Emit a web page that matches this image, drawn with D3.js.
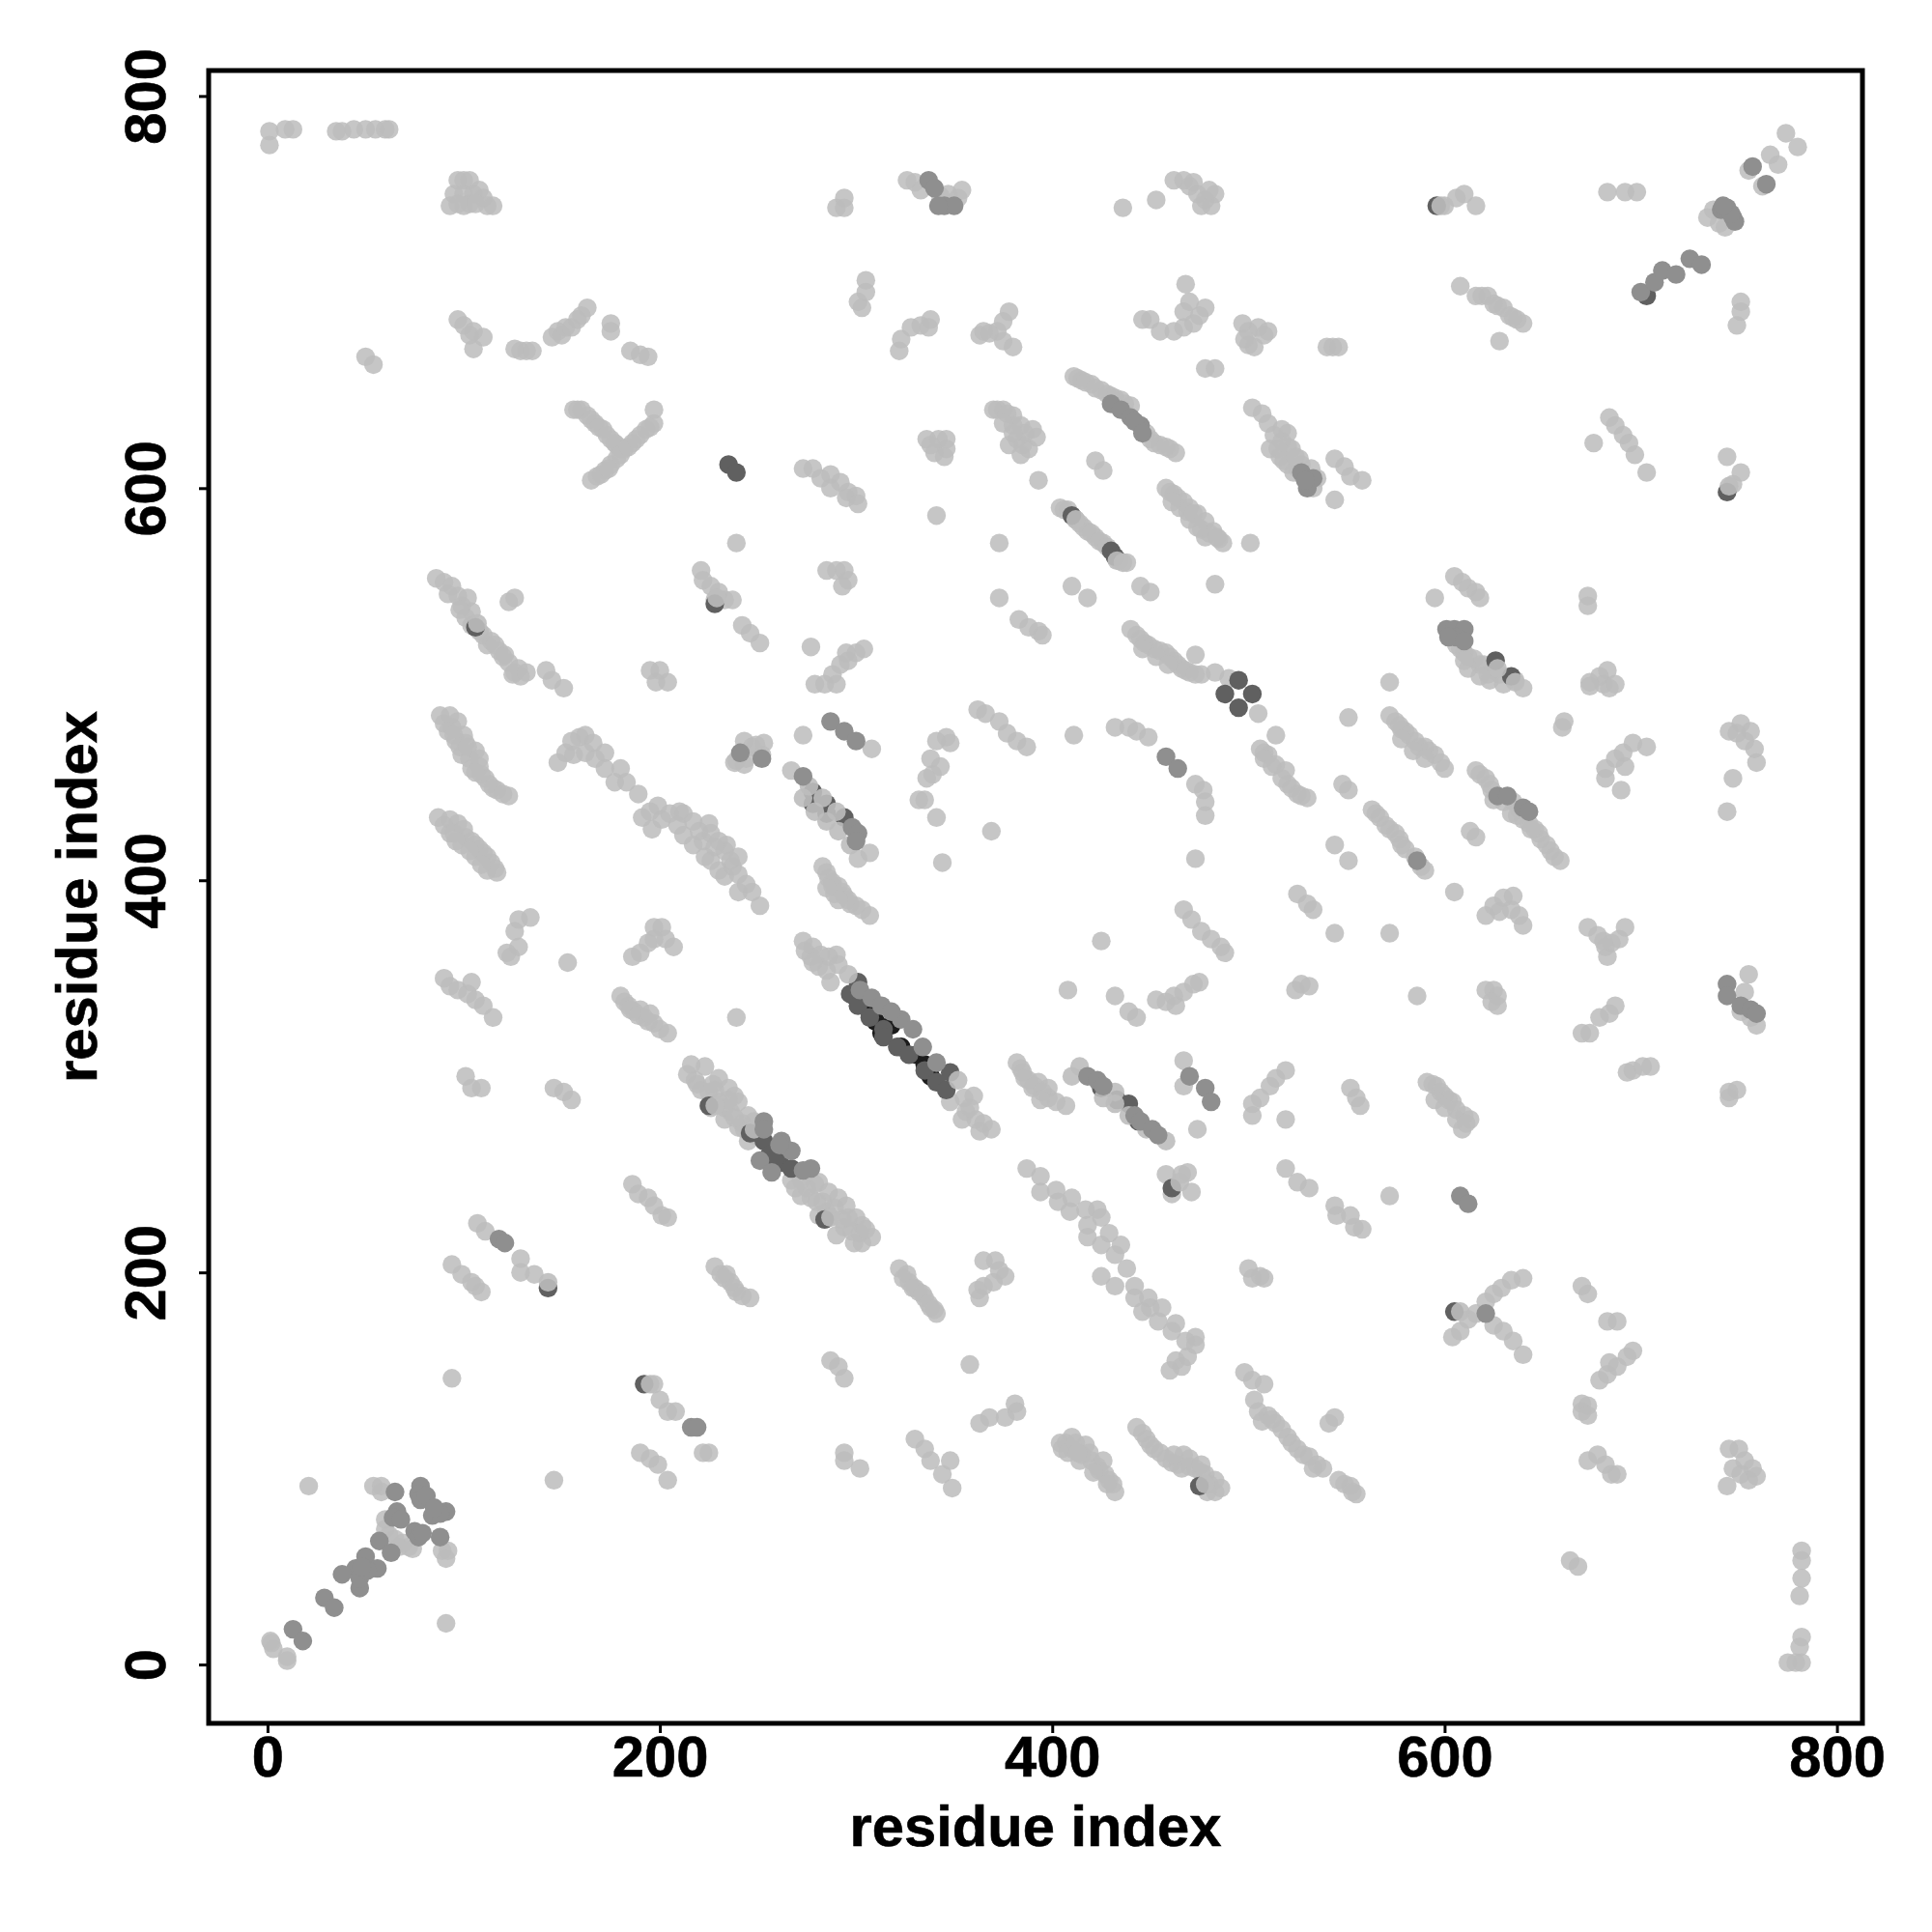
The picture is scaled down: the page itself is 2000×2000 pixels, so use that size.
<!DOCTYPE html>
<html><head><meta charset="utf-8">
<script src="https://cdn.jsdelivr.net/npm/d3@7"></script>
<style>html,body{margin:0;padding:0;background:#fff}svg{display:block}</style>
</head><body><svg id="c" width="2000" height="2000"></svg>
<script>
const tickValues = [0,200,400,600,800];
const axisTitle = "residue index";
const lightPoints = [
[1,782],[1,775],[9,783],[13,783],[35,782],[38,782],[44,783],[50,783],[55,783],[60,783],[62,783],
[93,744],[95,750],[97,757],[100,757],[103,757],[100,750],[103,745],[105,750],[108,752],[110,748],[112,744],[115,744],[100,744],[106,745],[97,745],
[50,667],[54,663],[97,686],[100,683],[105,680],[110,677],[105,671],[103,678],[126,671],[129,670],[132,670],[135,670],
[145,677],[148,680],[150,678],[152,682],[155,682],[158,686],[160,688],[163,692],[175,684],[175,680],[185,670],[190,668],[194,667],
[156,640],[160,640],[163,637],[167,633],[171,630],[175,625],[178,622],[180,620],[165,604],[168,606],[172,609],[175,612],[178,615],[182,620],[186,623],[190,627],[193,630],[197,633],[197,640],
[239,572],[221,558],[222,553],[226,550],[230,547],[233,543],[237,543],[228,543],[242,530],[246,526],[251,521],[277,519],
[279,500],[284,500],[290,500],[288,505],[292,510],[296,512],[295,516],[300,516],[304,518],[285,558],[290,558],[294,558],[296,553],[293,550],
[273,610],[278,610],[282,605],[287,607],[287,600],[292,603],[296,598],[300,596],[295,595],[301,592],
[290,743],[294,743],[294,748],[301,695],[305,700],[305,706],[303,692],[322,670],[323,676],[328,682],[333,683],[338,686],[337,682],
[326,757],[330,756],[333,752],[343,749],[347,750],[354,752],[352,748],[436,743],[453,747],
[462,757],[467,757],[470,754],[474,750],[478,747],[483,750],[476,744],[481,744],[480,752],[472,756],
[600,744],[606,748],[610,750],[616,744],[683,751],[692,751],[698,751],
[734,738],[737,742],[740,735],[743,733],[755,762],[762,754],[766,770],[770,765],[774,781],[780,774],
[608,703],[616,698],[622,698],[625,694],[630,692],[633,688],[637,686],[640,684],[628,675],[751,695],[751,690],[749,683],
[497,684],[500,680],[505,682],[510,680],[500,673],[503,672],[498,676],[508,678],[540,672],[543,672],[546,672],[478,661],[483,661],
[446,686],[450,686],[455,680],[462,680],[467,682],[472,684],[475,688],[478,692],[470,695],[468,704],[467,690],
[363,678],[368,679],[372,680],[375,685],[378,690],[375,675],[380,672],[365,680],
[411,657],[415,655],[420,653],[425,650],[430,647],[435,645],[440,642],[450,625],[455,622],[460,620],[463,618],
[458,600],[462,597],[467,593],[470,590],[474,587],[478,583],[482,578],[485,574],[487,572],[465,590],[470,584],[478,575],[464,595],
[501,572],[422,614],[426,609],[393,604],[341,586],[336,625],[342,625],[346,625],[346,620],[340,618],[345,616],[338,622],
[370,640],[375,640],[380,637],[384,632],[390,630],[382,625],[378,622],[385,622],[392,626],[388,620],
[373,572],[373,544],[383,533],[388,529],[393,527],[395,525],
[404,590],[408,589],[414,582],[418,578],[422,575],[426,572],[434,563],[438,562],[410,550],[418,544],[445,550],[450,547],[483,551],
[440,528],[443,525],[447,521],[452,518],[458,516],[462,512],[466,508],[470,506],[476,505],[473,515],[483,506],[490,503],[505,485],[514,474],
[502,641],[507,638],[510,633],[517,630],[520,628],[511,620],[516,616],[520,612],[525,610],[530,605],[533,600],[532,610],[527,612],[535,605],[526,615],[522,620],[517,624],[513,627],[520,621],
[544,615],[549,611],[552,606],[558,604],[544,594],[595,544],[605,555],[609,552],[612,549],[616,547],[618,544],
[606,520],[610,516],[615,513],[620,510],[622,505],[628,505],[640,498],[625,507],[673,545],[673,540],
[676,623],[684,636],[687,632],[691,627],[694,623],[697,617],[703,608],[744,616],[747,602],[751,608],
[674,501],[679,504],[683,507],[681,500],[684,498],[674,499],[687,500],[660,478],[661,481],
[745,476],[751,480],[756,476],[753,471],[758,467],[759,460],[749,475],[747,452],[744,435],
[682,452],[682,457],[687,462],[691,465],[696,470],[703,468],[690,446],[692,458],
[572,484],[575,481],[580,476],[585,471],[590,468],[595,464],[600,457],[578,477],[587,468],
[616,456],[621,452],[624,446],[635,440],[640,431],[646,426],[649,421],[654,415],[659,410],[613,425],[616,422],
[563,436],[567,432],[572,426],[577,421],[580,416],[590,405],[544,418],[551,410],[548,449],[551,446],
[506,467],[510,464],[514,459],[519,456],[520,449],[525,444],[530,442],[508,465],[551,483],[572,501],
[525,393],[530,388],[533,385],[544,373],[572,373],[586,341],[605,394],
[621,382],[625,387],[630,391],[635,392],[634,385],[638,382],[640,377],[628,384],
[673,376],[678,372],[682,366],[683,361],[689,370],[692,376],[685,368],[681,369],
[670,322],[674,322],[679,330],[684,332],[687,336],[693,302],[696,303],[701,305],[705,305],
[755,352],[753,343],[756,330],[759,326],[751,333],[745,292],[749,293],[745,289],
[621,344],[625,344],[627,341],[624,338],[627,336],[524,344],[527,347],[531,346],
[502,280],[502,286],[506,289],[511,295],[514,299],[519,303],[519,278],[552,294],[555,289],[557,285],
[591,297],[596,295],[600,290],[604,287],[606,283],[610,280],[609,273],[613,278],[572,239],[519,253],[525,246],[531,243],
[544,234],[545,229],[552,229],[554,223],[558,222],[500,202],[506,198],[502,197],[508,197],
[604,167],[608,170],[612,176],[616,179],[621,185],[625,189],[629,192],[634,196],[640,197],[625,173],[630,170],[635,165],[640,158],
[670,193],[673,189],[683,175],[688,175],[679,145],[683,148],[684,154],[688,152],[693,157],[696,160],
[670,133],[673,132],[670,129],[673,127],[673,104],[678,107],[682,102],[685,97],[688,97],
[745,110],[750,110],[747,100],[753,104],[757,100],[755,94],[744,91],[751,97],[759,96],[664,53],[668,50],
[782,58],[782,53],[782,44],[781,35],[782,14],[781,9],[775,1],[782,1],[779,1],
[498,149],[502,145],[508,143],[505,129],[510,127],[514,123],[520,116],[525,110],[535,102],[546,94],[552,91],[555,87],[541,123],[544,126],[531,106],
[404,113],[407,113],[410,110],[415,107],[420,104],[424,99],[429,94],[432,88],[410,116],[417,112],[405,110],[414,104],[423,101],[427,97],
[443,121],[448,115],[452,110],[458,105],[464,102],[467,107],[473,100],[478,97],[483,94],[483,88],[470,101],
[358,153],[363,123],[368,126],[376,126],[382,129],[381,133],[330,115],[335,110],[338,104],[348,104],[344,97],[349,90],
[294,108],[294,104],[302,100],[287,155],[291,152],[294,146],[197,143],[200,135],[204,129],[208,129],[222,108],[225,108],
[190,108],[195,105],[199,102],[204,94],[146,94],[94,146],[21,91],
[54,91],[58,91],[58,88],[60,74],[60,69],[62,66],[67,60],[72,60],[74,59],[69,62],[65,64],[89,58],[92,58],[91,54],[91,21],
[2,11],[3,8],[10,2],[1.5,12],[10,4],
[101,300],[104,294],[109,294],[90,350],[93,346],[97,344],[104,348],[106,339],[110,336],[115,330],[102,342],
[124,361],[128,366],[126,374],[128,380],[134,381],[122,363],[153,358],
[186,361],[190,363],[194,368],[197,376],[201,376],[203,370],[207,366],[197,370],
[180,341],[184,336],[187,333],[192,330],[197,327],[200,324],[204,322],[190,334],[239,330],[146,294],[151,292],[155,288],
[216,306],[223,305],[230,299],[235,294],[240,287],[245,280],[214,301],[221,293],[226,284],[233,278],[240,274],[245,267],[218,298],[225,292],[230,287],[236,282],[242,276],
[281,246],[286,241],[295,234],[303,224],[308,218],[303,215],[294,223],[285,231],[277,238],[267,247],[272,239],[281,229],[290,219],[299,215],[300,228],[291,238],[283,236],
[186,245],[189,240],[194,238],[197,234],[201,229],[204,228],[107,225],[111,221],[129,207],[129,200],[136,199],
[94,204],[99,199],[104,195],[109,190],[106,193],
[228,203],[231,199],[236,195],[239,190],[246,187],[234,199],
[322,202],[326,199],[327,195],[332,190],[335,187],[338,182],[341,179],[330,192],
[363,187],[365,193],[370,195],[365,206],[371,206],[376,198],[373,201],[362,191],
[387,253],[394,249],[394,241],[402,242],[403,236],[410,238],[409,231],[417,232],[423,232],[425,228],[418,224],[418,218],[429,220],[425,214],[435,214],[432,209],[438,202],[425,198],[432,193],[442,193],[442,187],[449,187],[446,180],[450,182],[456,182],[454,175],[463,174],[461,170],[473,167],[473,163],[469,157],[463,155],[460,150],[466,152],[468,165],
[469,251],[461,240],[471,241],[466,250],[458,250],[474,273],[467,308],[467,295],
[382,307],[385,302],[388,298],[393,297],[398,294],[398,289],[407,285],[390,294],
[273,369],[274,364],[278,366],[277,361],[282,362],[290,362],[286,361],[287,348],[281,356],[285,354],[291,357],[278,358],
[360,290],[355,289],[348,287],[356,282],[361,278],[369,273],[363,272],[354,278],[365,276],[358,284],
[267,456],[307,414],[301,411],[308,467],[273,474],
[239,461],[244,462],[243,471],[247,468],[253,470],[252,464],[249,469],[238,460],[243,459],
[283,407],[286,401],[291,397],[294,392],[300,387],[307,382],[289,393],[297,388],[288,397],
[86,554],[90,552],[94,550],[97,545],[102,544],[101,534],[106,529],[110,525],[114,522],[118,517],[123,511],[128,508],[129,504],[121,515],[123,542],[126,544],[104,530],[112,520],[125,505],
[142,507],[145,502],[151,498],[195,507],[200,507],[198,501],[204,501],
[88,484],[93,484],[97,481],[96,471],[101,470],[106,466],[99,464],[104,457],[109,454],[113,449],[117,446],[123,443],[94,478],[100,474],[103,462],[108,458],
[87,432],[93,431],[97,429],[101,422],[106,418],[110,414],[114,409],[117,404],[93,424],[99,418],[106,412],[112,405],
[148,460],[152,465],[155,471],[159,473],[162,474],[166,470],[172,465],[172,457],[180,457],[177,450],[183,450],[189,444],[191,432],[196,426],[199,438],[195,435],[201,431],[210,435],[212,434],[217,430],[226,424],[230,420],[212,423],[217,418],[223,412],[230,405],[236,410],[240,403],[240,394],[247,394],[251,387],[220,425],[162,465],[167,462],[156,464],[205,434],[222,420],
[344,409],[369,425],[341,432],[332,441],[335,441],
[346,473],[341,471],[338,462],[339,454],[343,458],[348,470],[336,452],
[362,487],[366,485],[373,481],[377,475],[382,471],[387,468],[411,474],
[432,478],[439,478],[443,476],[449,473],[473,449],[477,446],[478,440],[478,433],[473,411],
[467,385],[471,380],[476,374],[481,370],[486,366],[488,363],[425,369],[408,344],[432,341],[439,333],[443,330],
[453,339],[458,338],[462,341],[467,343],[472,347],[475,348],[463,336]
];
const streakFillPoints = [
[233,415],[237,407],[226,410],[233,402],[244,398],[209,428],[225,429],[234,418],[228,417],[240,412],
[92,546],[99,540],[104,537],[108,527],[116,520],[120,514],[126,506],[98,538],[132,506],
[90,480],[92,476],[95,474],[98,468],[102,468],[108,462],[111,452],[115,447],[120,444],[106,455],
[90,428],[95,424],[100,426],[104,420],[108,416],[112,412],[116,406],[96,420],[103,415],[109,408],
[182,338],[185,334],[189,331],[194,328],[195,332],
[219,296],[228,293],[238,290],[233,284],[227,296],[243,273],[248,270],[238,279],[235,288],[248,277],
[269,243],[275,243],[280,236],[279,245],[289,233],[286,228],[293,227],[298,221],[302,220],[296,228],[305,222],[272,247],
[408,108],[412,113],[419,108],[426,104],[431,92],[421,98],[428,92],[413,108],
[446,118],[450,112],[455,108],[461,103],[466,100],[470,105],[476,98],[480,92],[486,90],[479,88],[476,102],[462,107],
[503,135],[507,124],[512,125],[517,120],[522,113],[528,107],[533,100],[538,100],[549,92],[553,88],
[324,197],[329,192],[334,189],[337,184],[340,181],[233,197],[238,192],[242,188],
[413,656],[417,654],[422,651],[428,648],[432,646],[437,643],[448,628],[452,623],[458,621],
[460,598],[469,588],[472,587],[476,579],[480,577],[484,575],[461,593],[474,580],
[406,589],[412,584],[416,580],[420,577],[424,573],[428,570],
[515,620],[518,614],[523,608],[528,606],[524,616],
[445,523],[449,520],[455,517],[460,514],[464,510],[468,507],[473,505],[446,518],[453,514],[459,510],
[577,479],[582,474],[592,466],[598,460],[578,472],[584,466],[590,462],
[618,454],[623,449],[638,436],[643,429],[648,424],[652,418],[656,412],[637,433],[630,440],[625,441],[634,434],[644,426],
[508,462],[512,458],[517,452],[522,447],[527,443],
[565,434],[570,428],[575,424],[578,418],[585,412],[588,407],
[608,518],[612,514],[618,510],[612,508],[618,504],[623,502],[630,500],[636,502],[610,512],
[594,296],[598,292],[602,288],[595,288],[600,284],[606,278],[611,276],
[384,304],[386,299],[391,295],[395,292],[402,287],[394,288],
[285,404],[288,399],[293,394],[296,390],[303,385],[291,390],[285,396],
[158,640],[165,635],[169,631],[173,627],[177,623],[170,607],[174,610],[180,617],[184,621],[188,625],[195,631],
[619,698],[627,693],[635,687],[372,640],[377,638],[380,632],[386,628],[375,633],[380,628],[384,617]
];
const deepPoints = [
[299,341],[307,333],[313,322],[323,315],[331,311],[338,300],[318,326],[310,328],[335,306]
];
const darkPoints = [
[192,143],[143,192],[228,541],[246,271],[225,285],[284,227],
[235,612],[239,608],[488,495],[495,502],[502,495],[495,488],[596,744],[703,698],[744,598],[410,586],[430,568],[432,565],
[253,267],[256,260],[261,256],[267,253],[258,257],[439,286],[425,294],[433,288],[444,277],[278,445],[285,439],[294,432],[278,439],[285,434],
[301,348],[348,302],[297,342],[301,336],[307,330],[314,324],[314,320],[321,315],[327,311],[335,303],[341,297],[346,293],
[605,180],[475,91],[461,243],[626,512],[634,504],[106,529]
];
const coverLightPoints = [
[195,143],[143,195],[229,544],[598,744],[478,92],[608,180],[107,531],[745,601],[412,584],[433,563],[436,562],[627,508],[636,501],[228,285],[248,273],[287,228],[465,246],
[296,352],[352,298],[432,292],[426,289],[432,286],[439,280],[448,273],[458,267],[414,305],[410,300],
[276,448],[283,442],[290,435],[273,442],[279,435],[285,430],[291,425],[297,418]
];
const midPoints = [
[337,757],[340,753],[345,744],[350,744],[342,744],[700,700],[707,705],[711,711],[718,709],[725,717],[731,714],
[741,742],[744,743],[747,738],[748,736],[746,740],[742,744],[757,764],[764,755],
[430,643],[435,640],[440,636],[445,632],[442,634],[446,628],
[527,608],[530,600],[533,605],[529,604],[601,528],[605,528],[610,528],[606,524],[602,524],[610,522],
[627,443],[632,443],[640,437],[643,435],[586,410],[744,347],[744,341],[751,336],[756,334],[759,332],
[608,239],[612,235],[621,179],[216,121],[219,121],[65,88],[78,91],[77,87],[78,84],[81,86],[84,76],[91,78],[88,77],[85,80],
[88,65],[66,78],[64,75],[68,74],[75,68],[77,65],[79,67],[57,63],[63,57],[50,55],[56,49],[45,49],[38,46],[47,39],[47,44],[51,48],[48,50],
[29,34],[34,29],[13,18],[18,12],[118,217],[121,215],
[253,277],[253,273],[262,267],[267,262],[251,257],[257,251],[277,253],[273,252],[261,265],
[470,300],[478,294],[481,287],
[418,300],[423,298],[426,295],[442,280],[445,277],[451,273],[454,270],
[302,344],[308,340],[313,336],[323,329],[329,324],[334,315],[341,307],[318,333],
[273,453],[298,427],[301,424],[300,420],[287,481],[294,476],[300,471],[241,465],[252,462],[458,463],[464,457]
];

const W=2000,H=2000,plotLeft=216,plotRight=1928,plotTop=73,plotBottom=1784;
const x=d3.scaleLinear().domain([-30,813]).range([plotLeft,plotRight]);
const y=d3.scaleLinear().domain([-30,813]).range([plotBottom,plotTop]);
const svg=d3.select("#c");
svg.append("rect").attr("width",W).attr("height",H).attr("fill","#fff");
const layers=[[lightPoints,"#bcbcbc",0.85],[streakFillPoints,"#bcbcbc",0.85],[deepPoints,"#1c1c1c",1],[darkPoints,"#606060",1],[coverLightPoints,"#bcbcbc",0.9],[midPoints,"#8f8f8f",1]];
layers.forEach(([pts,col,op])=>{
  svg.append("g").selectAll("circle").data(pts).join("circle")
    .attr("cx",d=>x(d[0])).attr("cy",d=>y(d[1])).attr("r",9.7)
    .attr("fill",col).attr("fill-opacity",op);
});
const font="'Liberation Sans',Arial,sans-serif";
const gx=svg.append("g").attr("transform",`translate(0,${plotBottom})`).call(d3.axisBottom(x).tickValues(tickValues).tickSize(10).tickFormat(d3.format("d")));
const gy=svg.append("g").attr("transform",`translate(${plotLeft},0)`).call(d3.axisLeft(y).tickValues(tickValues).tickSize(10).tickFormat(d3.format("d")));
[gx,gy].forEach(g=>{g.select(".domain").remove();g.selectAll("line").attr("stroke","#000").attr("stroke-width",3);
  g.selectAll("text").attr("font-family",font).attr("font-weight","bold").attr("font-size",59.7).attr("fill","#000").attr("stroke","#000").attr("stroke-width",0.6);});
gx.selectAll("text").attr("y",55).attr("dy",0);
gy.selectAll("text").attr("x",0).attr("dy",0).attr("y",0).attr("text-anchor","middle").attr("transform","translate(-45,0) rotate(-90)");
svg.append("rect").attr("x",plotLeft).attr("y",plotTop).attr("width",plotRight-plotLeft).attr("height",plotBottom-plotTop).attr("fill","none").attr("stroke","#000").attr("stroke-width",5);
[[(plotLeft+plotRight)/2,1911,0],[100,(plotTop+plotBottom)/2,-90]].forEach(([tx,ty,rot])=>{
  svg.append("text").attr("transform",`translate(${tx},${ty}) rotate(${rot})`).attr("text-anchor","middle").attr("font-family",font).attr("font-weight","bold").attr("font-size",59.7).attr("stroke","#000").attr("stroke-width",0.6).text(axisTitle);
});
</script></body></html>
